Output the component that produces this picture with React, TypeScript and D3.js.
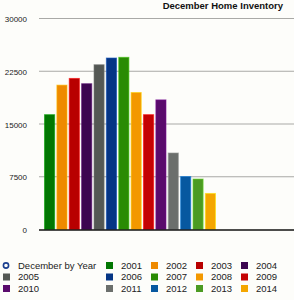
import React, { useEffect, useRef } from "react";
import * as d3 from "d3";

const years = ["2001", "2002", "2003", "2004", "2005", "2006", "2007",
  "2008", "2009", "2010", "2011", "2012", "2013", "2014"];
const inventory = [16400, 20600, 21550, 20800, 23500, 24450, 24550,
  19550, 16400, 18500, 10950, 7600, 7250, 5200];
const barColors = ["#027702", "#ee8a00", "#b80000", "#3c0650", "#545854", "#053584", "#2a8b04",
  "#f39800", "#c40303", "#5a0b6c", "#6b6f6c", "#0758a0", "#4c9b22", "#f4a600"];
const yTicks = [0, 7500, 15000, 22500, 30000];
const seriesLabel = "December by Year";
const title = "December Home Inventory";

const W = 294;
const H = 300;
const font = "'Liberation Sans', Arial, Helvetica, sans-serif";

const App = () => {
  const ref = useRef<SVGSVGElement>(null);

  useEffect(() => {
    const svg = d3.select(ref.current);
    svg.selectAll("*").remove();

    const x = d3.scaleBand<string>()
      .domain(years)
      .range([44, 216])
      .paddingInner(0.1);

    const y = d3.scaleLinear()
      .domain([0, 30000])
      .range([229.5, 18.5]);

    svg.append("rect")
      .attr("width", W)
      .attr("height", H)
      .attr("fill", "#fdfdfa");

    // grid
    svg.append("g")
      .selectAll("line")
      .data(yTicks.filter(d => d > 0))
      .join("line")
      .attr("x1", 39)
      .attr("x2", W)
      .attr("y1", d => y(d))
      .attr("y2", d => y(d))
      .attr("stroke", "#a9a9a6")
      .attr("stroke-width", 1);

    // tick labels
    svg.append("g")
      .attr("font-family", font)
      .attr("font-size", 8)
      .attr("fill", "#222")
      .attr("text-anchor", "end")
      .selectAll("text")
      .data(yTicks)
      .join("text")
      .attr("x", 27)
      .attr("y", d => y(d) + 3.5)
      .text(d => String(d));

    // bars
    const data = years.map((yr, i) => ({ year: yr, value: inventory[i], color: barColors[i] }));
    svg.append("g")
      .selectAll("rect")
      .data(data)
      .join("rect")
      .attr("x", d => x(d.year)! + 0.5)
      .attr("y", d => y(d.value) + 0.5)
      .attr("width", x.bandwidth() - 1)
      .attr("height", d => y(0) - y(d.value) - 0.5)
      .attr("fill", d => d.color)
      .attr("stroke", d => d3.color(d.color)!.brighter(0.9).formatHex())
      .attr("stroke-opacity", 0.6)
      .attr("stroke-width", 1);

    // zero axis
    svg.append("line")
      .attr("x1", 39)
      .attr("x2", W)
      .attr("y1", y(0) + 0.5)
      .attr("y2", y(0) + 0.5)
      .attr("stroke", "#111")
      .attr("stroke-width", 1.6);

    // title
    svg.append("text")
      .attr("x", 283)
      .attr("y", 9)
      .attr("text-anchor", "end")
      .attr("font-family", font)
      .attr("font-size", 9.5)
      .attr("font-weight", "bold")
      .attr("fill", "#111")
      .text(title);

    // legend
    const items = [{ label: seriesLabel, color: "#1b3f8f", circle: true }]
      .concat(data.map(d => ({ label: d.year, color: d.color, circle: false })));
    const colX = [3, 106, 151, 196, 241];
    const leg = svg.append("g")
      .attr("font-family", font)
      .attr("font-size", 9.5)
      .selectAll("g")
      .data(items)
      .join("g")
      .attr("transform", (d, i) => `translate(${colX[i % 5]},${265.5 + Math.floor(i / 5) * 11.5})`);

    leg.filter(d => d.circle)
      .append("circle")
      .attr("cx", 3)
      .attr("cy", 0)
      .attr("r", 2.6)
      .attr("fill", "none")
      .attr("stroke", d => d.color)
      .attr("stroke-width", 1.6);

    leg.filter(d => !d.circle)
      .append("rect")
      .attr("x", 0)
      .attr("y", -3.5)
      .attr("width", 7)
      .attr("height", 7)
      .attr("fill", d => d.color);

    leg.append("text")
      .attr("x", 15)
      .attr("y", 3.4)
      .attr("fill", "#222")
      .text(d => d.label);
  }, []);

  return (
    <svg ref={ref} width={W} height={H}
      style={{ position: "absolute", left: 0, top: 0, display: "block" }} />
  );
};

export default App;
